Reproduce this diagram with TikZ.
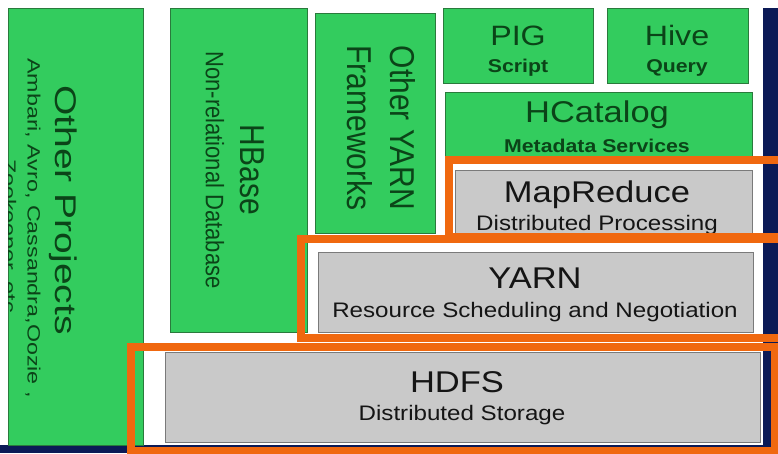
\documentclass[tikz,border=0pt]{standalone}
\usepackage{fontspec}
\setmainfont{Liberation Sans}
\usepackage{graphicx}
\definecolor{pgreen}{HTML}{33CC5E}
\definecolor{pgreenline}{HTML}{2A7A3C}
\definecolor{ptxtgreen}{HTML}{0B4418}
\definecolor{pgray}{HTML}{C9C9C9}
\definecolor{pgrayline}{HTML}{7A7A7A}
\definecolor{ptxtgray}{HTML}{151515}
\definecolor{porange}{HTML}{F0680F}
\definecolor{pnavy}{HTML}{0B1A56}
\newcommand\hsc[1]{\scalebox{1.15}[1]{#1}}
\newcommand\vsc[1]{\scalebox{1}[1.15]{#1}}
\newcommand\lsc[1]{\scalebox{1.5}[1.15]{#1}}
\newcommand\fsz[1]{\fontsize{#1}{#1}\selectfont}
\begin{document}
\begin{tikzpicture}[x=1pt,y=-1pt,
  box/.style={rectangle, inner sep=0pt, outer sep=0pt, anchor=north west},
  gbox/.style={box, fill=pgreen, draw=pgreenline, line width=0.8pt},
  graybox/.style={box, fill=pgray, draw=pgrayline, line width=1pt},
  oframe/.style={box, draw=porange, line width=7.5pt},
  gtitle/.style={text=ptxtgreen, inner sep=0pt, anchor=base, font=\fsz{28}},
  gsub/.style={text=ptxtgreen, inner sep=0pt, anchor=base, font=\fsz{18.5}\bfseries},
  ktitle/.style={text=ptxtgray, inner sep=0pt, anchor=base, font=\fsz{30}},
  ksub/.style={text=ptxtgray, inner sep=0pt, anchor=base, font=\fsz{21}},
  rtitle/.style={text=ptxtgreen, inner sep=0pt, rotate=-90, font=\fsz{30}},
  rsub/.style={text=ptxtgreen, inner sep=0pt, rotate=-90, font=\fsz{22}},
]
\useasboundingbox (0,0) rectangle (778,453);
\fill[white] (0,0) rectangle (778,453);
\clip (0,0) rectangle (778,453);
% slide edges
\fill[pnavy] (763,8) rectangle (778,453);
\fill[pnavy] (0,445) rectangle (778,453);
% left panel
\node[gbox, minimum width=135pt, minimum height=437pt] (other) at (8,8) {};
\begin{scope}
\clip (8,8) rectangle (143,445);
\node[text=ptxtgreen, inner sep=0pt, rotate=-90, font=\fsz{26}] (otherT) at (63,210) {\lsc{Other Projects}};
\node[text=ptxtgreen, inner sep=0pt, rotate=-90, font=\fsz{15.5}] (otherS) at (33,228) {\lsc{Ambari, Avro, Cassandra,Oozie ,}};
\node[text=ptxtgreen, inner sep=0pt, rotate=-90, font=\fsz{15.5}] (otherS2) at (8,236) {\lsc{Zookeeper, etc}};
\end{scope}
% HBase
\node[gbox, minimum width=137pt, minimum height=324pt] (hbase) at (170,8) {};
\node[rtitle] (hbaseT) at (252,170) {\vsc{HBase}};
\node[rsub] (hbaseS) at (215,170) {\vsc{Non-relational Database}};
% Other YARN frameworks
\node[gbox, minimum width=120pt, minimum height=220pt] (oyf) at (315,13) {};
\node[rtitle] (oyfT) at (403,128) {\vsc{Other YARN}};
\node[rtitle] (oyfS) at (360,128) {\vsc{Frameworks}};
% PIG / Hive
\node[gbox, minimum width=150pt, minimum height=75pt] (pig) at (443,8) {};
\node[gtitle] (pigT) at (518,45) {\hsc{PIG}};
\node[gsub] (pigS) at (518,72) {\hsc{Script}};
\node[gbox, minimum width=141pt, minimum height=75pt] (hive) at (607,8) {};
\node[gtitle] (hiveT) at (677,45) {\hsc{Hive}};
\node[gsub] (hiveS) at (677,72) {\hsc{Query}};
% HCatalog
\node[gbox, minimum width=307pt, minimum height=70pt] (hcat) at (445,92) {};
\node[gtitle, font=\fsz{30}] (hcatT) at (597,122) {\hsc{HCatalog}};
\node[gsub] (hcatS) at (597,152) {\hsc{Metadata Services}};
% MapReduce
\node[graybox, minimum width=297pt, minimum height=63pt] (mr) at (455,170) {};
\node[ktitle] (mrT) at (597,202) {\hsc{MapReduce}};
\node[ksub] (mrS) at (597,230) {\hsc{Distributed Processing}};
% YARN
\node[graybox, minimum width=435pt, minimum height=80pt] (yarn) at (318,252) {};
\node[ktitle] (yarnT) at (535,288) {\hsc{YARN}};
\node[ksub] (yarnS) at (535,317) {\hsc{Resource Scheduling and Negotiation}};
% HDFS
\node[graybox, minimum width=595pt, minimum height=90pt] (hdfs) at (165,352) {};
\node[ktitle] (hdfsT) at (457,392) {\hsc{HDFS}};
\node[ksub] (hdfsS) at (462,420) {\hsc{Distributed Storage}};
% orange highlight frames
\node[oframe, minimum width=351pt, minimum height=77pt] (mrF) at (449,160) {};
\node[oframe, minimum width=499pt, minimum height=99pt] (yarnF) at (301,239) {};
\node[oframe, minimum width=644pt, minimum height=104pt] (hdfsF) at (131,347) {};
\end{tikzpicture}
\end{document}
